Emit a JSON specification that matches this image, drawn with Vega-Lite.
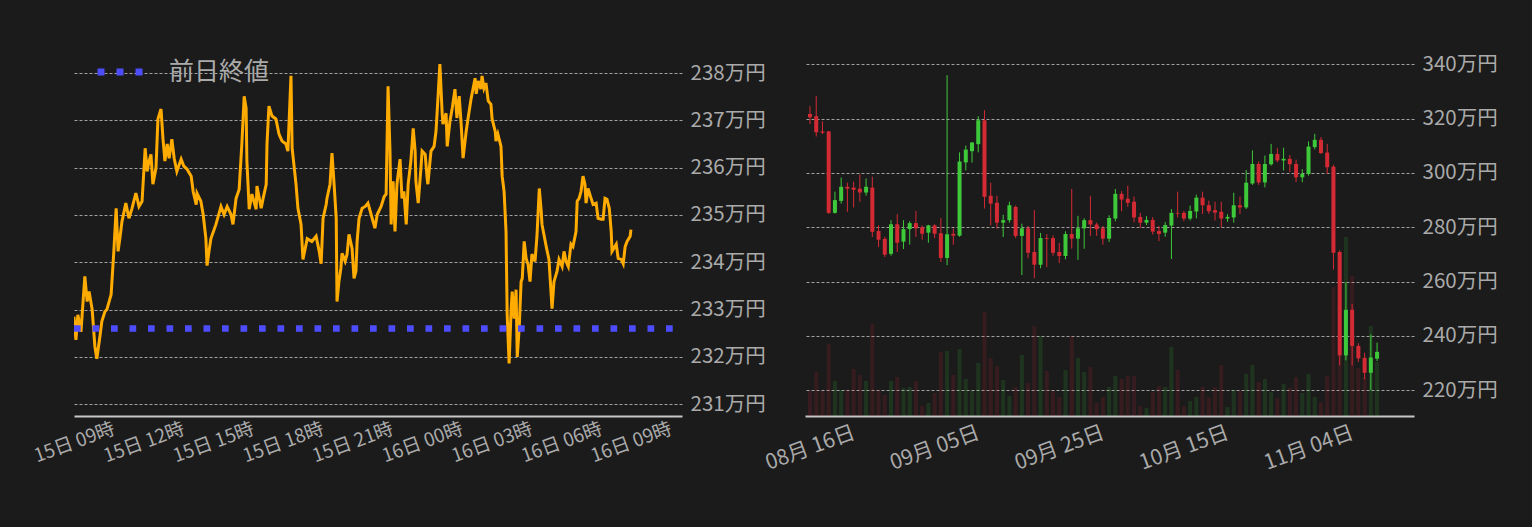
{
  "$schema": "https://vega.github.io/schema/vega-lite/v6.json",
  "background": "#1b1b1b",
  "padding": {"left": 31, "top": 46, "right": 34, "bottom": 55},
  "autosize": {"type": "pad"},
  "spacing": 123,
  "bounds": "flush",
  "config": {
    "view": {"stroke": null},
    "font": "Noto Sans CJK JP",
    "axis": {
      "labelFont": "Noto Sans CJK JP",
      "labelColor": "#aaaaaa",
      "gridColor": "#a0a0a0",
      "gridDash": [3, 2],
      "gridWidth": 1,
      "ticks": false,
      "tickSize": 0,
      "domainColor": "#c8c8c8",
      "domainWidth": 2,
      "title": null
    }
  },
  "hconcat": [
    {
      "width": 608,
      "height": 360,
      "layer": [
        {
          "data": {"values": [
            {"t":"2022-11-15T09:00Z","p":232.85},{"t":"2022-11-15T09:05Z","p":232.36},{"t":"2022-11-15T09:10Z","p":232.89},{"t":"2022-11-15T09:18Z","p":232.53},
            {"t":"2022-11-15T09:28Z","p":233.70},{"t":"2022-11-15T09:34Z","p":233.17},{"t":"2022-11-15T09:39Z","p":233.38},{"t":"2022-11-15T09:47Z","p":233.00},
            {"t":"2022-11-15T09:54Z","p":232.22},{"t":"2022-11-15T09:59Z","p":231.96},{"t":"2022-11-15T10:07Z","p":232.43},{"t":"2022-11-15T10:12Z","p":232.75},
            {"t":"2022-11-15T10:20Z","p":232.96},{"t":"2022-11-15T10:25Z","p":233.00},{"t":"2022-11-15T10:36Z","p":233.32},{"t":"2022-11-15T10:43Z","p":234.23},
            {"t":"2022-11-15T10:49Z","p":235.14},{"t":"2022-11-15T10:54Z","p":234.23},{"t":"2022-11-15T10:59Z","p":234.53},{"t":"2022-11-15T11:04Z","p":234.86},
            {"t":"2022-11-15T11:14Z","p":235.25},{"t":"2022-11-15T11:22Z","p":234.93},{"t":"2022-11-15T11:30Z","p":235.14},{"t":"2022-11-15T11:40Z","p":235.46},
            {"t":"2022-11-15T11:48Z","p":235.18},{"t":"2022-11-15T11:56Z","p":235.29},{"t":"2022-11-15T12:04Z","p":236.41},{"t":"2022-11-15T12:09Z","p":235.92},
            {"t":"2022-11-15T12:14Z","p":236.14},{"t":"2022-11-15T12:19Z","p":236.28},{"t":"2022-11-15T12:24Z","p":235.65},{"t":"2022-11-15T12:32Z","p":235.99},
            {"t":"2022-11-15T12:37Z","p":237.03},{"t":"2022-11-15T12:45Z","p":237.24},{"t":"2022-11-15T12:50Z","p":236.62},{"t":"2022-11-15T12:55Z","p":236.14},
            {"t":"2022-11-15T13:01Z","p":236.50},{"t":"2022-11-15T13:06Z","p":236.20},{"t":"2022-11-15T13:13Z","p":236.60},{"t":"2022-11-15T13:19Z","p":236.20},
            {"t":"2022-11-15T13:26Z","p":235.92},{"t":"2022-11-15T13:37Z","p":236.18},{"t":"2022-11-15T13:44Z","p":236.03},{"t":"2022-11-15T13:52Z","p":235.97},
            {"t":"2022-11-15T14:03Z","p":235.82},{"t":"2022-11-15T14:08Z","p":235.50},{"t":"2022-11-15T14:16Z","p":235.22},{"t":"2022-11-15T14:18Z","p":235.46},
            {"t":"2022-11-15T14:28Z","p":235.29},{"t":"2022-11-15T14:34Z","p":235.01},{"t":"2022-11-15T14:41Z","p":234.50},{"t":"2022-11-15T14:44Z","p":233.93},
            {"t":"2022-11-15T14:49Z","p":234.23},{"t":"2022-11-15T14:54Z","p":234.50},{"t":"2022-11-15T15:07Z","p":234.80},{"t":"2022-11-15T15:20Z","p":235.18},
            {"t":"2022-11-15T15:28Z","p":235.01},{"t":"2022-11-15T15:36Z","p":235.18},{"t":"2022-11-15T15:46Z","p":235.01},{"t":"2022-11-15T15:51Z","p":234.80},
            {"t":"2022-11-15T15:59Z","p":235.35},{"t":"2022-11-15T16:07Z","p":235.54},{"t":"2022-11-15T16:14Z","p":236.50},{"t":"2022-11-15T16:20Z","p":237.51},
            {"t":"2022-11-15T16:25Z","p":237.26},{"t":"2022-11-15T16:27Z","p":236.14},{"t":"2022-11-15T16:33Z","p":235.12},{"t":"2022-11-15T16:40Z","p":235.44},
            {"t":"2022-11-15T16:51Z","p":235.12},{"t":"2022-11-15T16:53Z","p":235.61},{"t":"2022-11-15T17:04Z","p":235.14},{"t":"2022-11-15T17:09Z","p":235.35},
            {"t":"2022-11-15T17:17Z","p":235.65},{"t":"2022-11-15T17:19Z","p":236.50},{"t":"2022-11-15T17:24Z","p":237.30},{"t":"2022-11-15T17:32Z","p":237.09},
            {"t":"2022-11-15T17:42Z","p":237.03},{"t":"2022-11-15T17:50Z","p":236.71},{"t":"2022-11-15T17:58Z","p":236.56},{"t":"2022-11-15T18:08Z","p":236.50},
            {"t":"2022-11-15T18:13Z","p":236.35},{"t":"2022-11-15T18:21Z","p":237.94},{"t":"2022-11-15T18:24Z","p":236.41},{"t":"2022-11-15T18:34Z","p":235.65},
            {"t":"2022-11-15T18:39Z","p":235.14},{"t":"2022-11-15T18:47Z","p":234.80},{"t":"2022-11-15T18:52Z","p":234.06},{"t":"2022-11-15T19:03Z","p":234.50},
            {"t":"2022-11-15T19:15Z","p":234.44},{"t":"2022-11-15T19:26Z","p":234.55},{"t":"2022-11-15T19:34Z","p":234.23},{"t":"2022-11-15T19:39Z","p":233.97},
            {"t":"2022-11-15T19:44Z","p":234.93},{"t":"2022-11-15T19:52Z","p":235.22},{"t":"2022-11-15T19:54Z","p":235.35},{"t":"2022-11-15T20:02Z","p":235.65},
            {"t":"2022-11-15T20:07Z","p":236.31},{"t":"2022-11-15T20:12Z","p":235.71},{"t":"2022-11-15T20:18Z","p":234.93},{"t":"2022-11-15T20:20Z","p":233.17},
            {"t":"2022-11-15T20:25Z","p":233.59},{"t":"2022-11-15T20:30Z","p":233.87},{"t":"2022-11-15T20:33Z","p":234.19},{"t":"2022-11-15T20:41Z","p":234.02},
            {"t":"2022-11-15T20:46Z","p":234.17},{"t":"2022-11-15T20:51Z","p":234.59},{"t":"2022-11-15T20:59Z","p":234.29},{"t":"2022-11-15T21:04Z","p":233.66},
            {"t":"2022-11-15T21:09Z","p":233.81},{"t":"2022-11-15T21:12Z","p":234.44},{"t":"2022-11-15T21:17Z","p":234.93},{"t":"2022-11-15T21:25Z","p":235.14},
            {"t":"2022-11-15T21:33Z","p":235.18},{"t":"2022-11-15T21:40Z","p":235.25},{"t":"2022-11-15T21:51Z","p":234.93},{"t":"2022-11-15T21:58Z","p":234.72},
            {"t":"2022-11-15T22:04Z","p":235.01},{"t":"2022-11-15T22:14Z","p":235.18},{"t":"2022-11-15T22:22Z","p":235.39},{"t":"2022-11-15T22:27Z","p":235.44},
            {"t":"2022-11-15T22:32Z","p":237.72},{"t":"2022-11-15T22:37Z","p":236.35},{"t":"2022-11-15T22:40Z","p":234.80},{"t":"2022-11-15T22:45Z","p":235.71},
            {"t":"2022-11-15T22:50Z","p":234.65},{"t":"2022-11-15T22:55Z","p":235.65},{"t":"2022-11-15T23:03Z","p":236.18},{"t":"2022-11-15T23:08Z","p":235.35},
            {"t":"2022-11-15T23:13Z","p":235.50},{"t":"2022-11-15T23:19Z","p":234.80},{"t":"2022-11-15T23:24Z","p":235.65},{"t":"2022-11-15T23:31Z","p":236.14},
            {"t":"2022-11-15T23:37Z","p":236.83},{"t":"2022-11-15T23:42Z","p":236.35},{"t":"2022-11-15T23:44Z","p":235.71},{"t":"2022-11-15T23:50Z","p":235.25},
            {"t":"2022-11-15T23:57Z","p":235.99},{"t":"2022-11-16T00:00Z","p":236.35},{"t":"2022-11-16T00:08Z","p":236.28},{"t":"2022-11-16T00:13Z","p":235.78},
            {"t":"2022-11-16T00:15Z","p":235.65},{"t":"2022-11-16T00:23Z","p":236.35},{"t":"2022-11-16T00:31Z","p":236.45},{"t":"2022-11-16T00:36Z","p":236.77},
            {"t":"2022-11-16T00:41Z","p":237.47},{"t":"2022-11-16T00:46Z","p":238.19},{"t":"2022-11-16T00:52Z","p":237.13},{"t":"2022-11-16T00:54Z","p":236.92},
            {"t":"2022-11-16T01:02Z","p":237.15},{"t":"2022-11-16T01:05Z","p":236.45},{"t":"2022-11-16T01:12Z","p":236.98},{"t":"2022-11-16T01:18Z","p":237.26},
            {"t":"2022-11-16T01:25Z","p":237.66},{"t":"2022-11-16T01:30Z","p":237.05},{"t":"2022-11-16T01:36Z","p":237.51},{"t":"2022-11-16T01:41Z","p":236.92},
            {"t":"2022-11-16T01:46Z","p":236.20},{"t":"2022-11-16T01:54Z","p":236.77},{"t":"2022-11-16T01:59Z","p":237.05},{"t":"2022-11-16T02:07Z","p":237.47},
            {"t":"2022-11-16T02:12Z","p":237.68},{"t":"2022-11-16T02:17Z","p":237.89},{"t":"2022-11-16T02:20Z","p":237.56},{"t":"2022-11-16T02:25Z","p":237.83},
            {"t":"2022-11-16T02:32Z","p":237.66},{"t":"2022-11-16T02:35Z","p":237.94},{"t":"2022-11-16T02:40Z","p":237.68},{"t":"2022-11-16T02:45Z","p":237.79},
            {"t":"2022-11-16T02:51Z","p":237.41},{"t":"2022-11-16T02:58Z","p":237.34},{"t":"2022-11-16T03:01Z","p":237.03},{"t":"2022-11-16T03:09Z","p":236.77},
            {"t":"2022-11-16T03:11Z","p":236.56},{"t":"2022-11-16T03:16Z","p":236.71},{"t":"2022-11-16T03:24Z","p":236.45},{"t":"2022-11-16T03:27Z","p":235.82},
            {"t":"2022-11-16T03:32Z","p":235.50},{"t":"2022-11-16T03:37Z","p":234.65},{"t":"2022-11-16T03:40Z","p":232.89},{"t":"2022-11-16T03:45Z","p":231.86},
            {"t":"2022-11-16T03:50Z","p":232.96},{"t":"2022-11-16T03:53Z","p":233.38},{"t":"2022-11-16T03:58Z","p":232.81},{"t":"2022-11-16T04:03Z","p":233.42},
            {"t":"2022-11-16T04:06Z","p":232.00},{"t":"2022-11-16T04:11Z","p":232.60},{"t":"2022-11-16T04:16Z","p":233.59},{"t":"2022-11-16T04:19Z","p":233.66},
            {"t":"2022-11-16T04:24Z","p":234.44},{"t":"2022-11-16T04:29Z","p":234.08},{"t":"2022-11-16T04:34Z","p":233.95},{"t":"2022-11-16T04:39Z","p":233.59},
            {"t":"2022-11-16T04:44Z","p":234.17},{"t":"2022-11-16T04:52Z","p":234.02},{"t":"2022-11-16T04:57Z","p":234.55},{"t":"2022-11-16T05:03Z","p":235.56},
            {"t":"2022-11-16T05:08Z","p":235.08},{"t":"2022-11-16T05:10Z","p":234.80},{"t":"2022-11-16T05:21Z","p":234.33},{"t":"2022-11-16T05:28Z","p":234.06},
            {"t":"2022-11-16T05:36Z","p":233.02},{"t":"2022-11-16T05:41Z","p":233.59},{"t":"2022-11-16T05:49Z","p":233.81},{"t":"2022-11-16T05:54Z","p":234.06},
            {"t":"2022-11-16T06:02Z","p":233.91},{"t":"2022-11-16T06:07Z","p":234.23},{"t":"2022-11-16T06:12Z","p":234.02},{"t":"2022-11-16T06:18Z","p":233.91},
            {"t":"2022-11-16T06:25Z","p":234.38},{"t":"2022-11-16T06:30Z","p":234.33},{"t":"2022-11-16T06:38Z","p":234.65},{"t":"2022-11-16T06:41Z","p":235.29},
            {"t":"2022-11-16T06:46Z","p":235.35},{"t":"2022-11-16T06:51Z","p":235.50},{"t":"2022-11-16T06:56Z","p":235.82},{"t":"2022-11-16T07:01Z","p":235.65},
            {"t":"2022-11-16T07:04Z","p":235.25},{"t":"2022-11-16T07:09Z","p":235.56},{"t":"2022-11-16T07:17Z","p":235.35},{"t":"2022-11-16T07:22Z","p":235.22},
            {"t":"2022-11-16T07:30Z","p":235.25},{"t":"2022-11-16T07:35Z","p":234.93},{"t":"2022-11-16T07:43Z","p":234.91},{"t":"2022-11-16T07:48Z","p":234.91},
            {"t":"2022-11-16T07:53Z","p":235.35},{"t":"2022-11-16T07:58Z","p":235.33},{"t":"2022-11-16T08:04Z","p":235.14},{"t":"2022-11-16T08:09Z","p":234.65},
            {"t":"2022-11-16T08:11Z","p":234.23},{"t":"2022-11-16T08:22Z","p":234.38},{"t":"2022-11-16T08:27Z","p":234.08},{"t":"2022-11-16T08:35Z","p":234.06},
            {"t":"2022-11-16T08:40Z","p":233.97},{"t":"2022-11-16T08:45Z","p":234.33},{"t":"2022-11-16T08:50Z","p":234.44},{"t":"2022-11-16T08:58Z","p":234.55},
            {"t":"2022-11-16T09:00Z","p":234.69}
          ]},
          "mark": {"type": "line", "color": "#ffab00", "strokeWidth": 3, "clip": true},
          "encoding": {
            "x": {
              "field": "t", "type": "temporal",
              "scale": {"type": "utc", "domain": [
                {"year": 2022, "month": 11, "date": 15, "hours": 9, "utc": true},
                {"year": 2022, "month": 11, "date": 16, "hours": 11, "minutes": 12, "utc": true}
              ]},
              "axis": {
                "values": [
                  {"year": 2022, "month": 11, "date": 15, "hours": 9, "utc": true},
                  {"year": 2022, "month": 11, "date": 15, "hours": 12, "utc": true},
                  {"year": 2022, "month": 11, "date": 15, "hours": 15, "utc": true},
                  {"year": 2022, "month": 11, "date": 15, "hours": 18, "utc": true},
                  {"year": 2022, "month": 11, "date": 15, "hours": 21, "utc": true},
                  {"year": 2022, "month": 11, "date": 16, "hours": 0, "utc": true},
                  {"year": 2022, "month": 11, "date": 16, "hours": 3, "utc": true},
                  {"year": 2022, "month": 11, "date": 16, "hours": 6, "utc": true},
                  {"year": 2022, "month": 11, "date": 16, "hours": 9, "utc": true}
                ],
                "labelExpr": "utcFormat(datum.value, '%d日 %H時')",
                "labelAngle": -20,
                "labelAlign": "center",
                "labelBaseline": "middle",
                "labelPadding": 26,
                "labelFontSize": 19,
                "labelOverlap": false,
                "grid": false
              }
            },
            "y": {
              "field": "p", "type": "quantitative",
              "scale": {"domain": [230.75, 238.36], "zero": false, "nice": false},
              "axis": {
                "orient": "right",
                "values": [231, 232, 233, 234, 235, 236, 237, 238],
                "labelExpr": "datum.value + '万円'",
                "grid": true,
                "domain": false,
                "labelPadding": 8,
                "labelFontSize": 20.5
              }
            }
          }
        },
        {
          "data": {"values": [{"name": "前日終値", "p": 232.6}]},
          "mark": {"type": "rule", "strokeWidth": 6.5, "strokeDash": [6.7, 11.8], "strokeCap": "butt", "clip": true},
          "encoding": {
            "x": {"datum": {"year": 2022, "month": 11, "date": 15, "hours": 9, "utc": true}, "type": "temporal"},
            "x2": {"datum": {"year": 2022, "month": 11, "date": 16, "hours": 11, "minutes": 12, "utc": true}},
            "y": {"field": "p", "type": "quantitative"},
            "color": {
              "field": "name", "type": "nominal",
              "scale": {"range": ["#4d4dff"]},
              "legend": {
                "title": null,
                "orient": "none",
                "legendX": 20,
                "legendY": -10,
                "padding": 0,
                "symbolType": "stroke",
                "symbolSize": 2025,
                "symbolStrokeWidth": 7,
                "symbolDash": [7, 12],
                "labelFontSize": 25,
                "labelColor": "#aaaaaa",
                "labelFont": "Noto Sans CJK JP",
                "labelOffset": 23
              }
            }
          }
        }
      ]
    },
    {
      "width": 609,
      "height": 360,
      "data": {"values": [
        {"d":"2022-08-16","o":321.7,"h":324.6,"l":318.0,"c":320.5,"v":25},
        {"d":"2022-08-17","o":320.9,"h":328.3,"l":313.4,"c":315.0,"v":44},
        {"d":"2022-08-18","o":315.3,"h":319.0,"l":314.3,"c":314.8,"v":25},
        {"d":"2022-08-19","o":315.3,"h":315.5,"l":284.9,"c":285.3,"v":72},
        {"d":"2022-08-20","o":285.3,"h":293.1,"l":285.0,"c":290.0,"v":35},
        {"d":"2022-08-21","o":289.7,"h":298.3,"l":288.7,"c":294.9,"v":26},
        {"d":"2022-08-22","o":294.9,"h":296.4,"l":285.7,"c":294.2,"v":26},
        {"d":"2022-08-23","o":294.6,"h":296.8,"l":287.3,"c":293.8,"v":47},
        {"d":"2022-08-24","o":294.2,"h":299.5,"l":289.4,"c":292.8,"v":41},
        {"d":"2022-08-25","o":292.8,"h":298.0,"l":291.6,"c":294.9,"v":35},
        {"d":"2022-08-26","o":294.6,"h":298.6,"l":276.4,"c":278.3,"v":92},
        {"d":"2022-08-27","o":278.6,"h":280.7,"l":272.7,"c":275.4,"v":26},
        {"d":"2022-08-28","o":275.7,"h":276.5,"l":269.0,"c":269.9,"v":21},
        {"d":"2022-08-29","o":270.2,"h":282.6,"l":269.5,"c":281.1,"v":35},
        {"d":"2022-08-30","o":281.1,"h":284.8,"l":270.9,"c":274.3,"v":39},
        {"d":"2022-08-31","o":274.7,"h":282.6,"l":272.0,"c":279.3,"v":28},
        {"d":"2022-09-01","o":279.3,"h":282.2,"l":273.6,"c":281.5,"v":29},
        {"d":"2022-09-02","o":281.5,"h":286.0,"l":276.4,"c":279.6,"v":35},
        {"d":"2022-09-03","o":280.0,"h":280.7,"l":275.4,"c":277.6,"v":10},
        {"d":"2022-09-04","o":278.0,"h":280.9,"l":274.3,"c":280.7,"v":13},
        {"d":"2022-09-05","o":280.7,"h":281.1,"l":276.0,"c":277.6,"v":23},
        {"d":"2022-09-06","o":277.8,"h":283.4,"l":267.2,"c":268.7,"v":64},
        {"d":"2022-09-07","o":268.7,"h":336.0,"l":266.0,"c":277.4,"v":65},
        {"d":"2022-09-08","o":277.6,"h":279.5,"l":273.6,"c":276.9,"v":41},
        {"d":"2022-09-09","o":276.9,"h":307.6,"l":276.5,"c":304.2,"v":67},
        {"d":"2022-09-10","o":303.9,"h":310.1,"l":300.9,"c":308.6,"v":37},
        {"d":"2022-09-11","o":308.0,"h":311.4,"l":303.8,"c":311.2,"v":25},
        {"d":"2022-09-12","o":310.6,"h":320.9,"l":307.6,"c":319.4,"v":53},
        {"d":"2022-09-13","o":319.4,"h":323.1,"l":286.9,"c":291.2,"v":104},
        {"d":"2022-09-14","o":291.6,"h":296.4,"l":280.7,"c":288.7,"v":58},
        {"d":"2022-09-15","o":289.0,"h":291.6,"l":279.5,"c":281.7,"v":50},
        {"d":"2022-09-16","o":281.7,"h":284.6,"l":276.4,"c":282.6,"v":36},
        {"d":"2022-09-17","o":282.6,"h":289.4,"l":281.7,"c":288.1,"v":20},
        {"d":"2022-09-18","o":287.5,"h":288.0,"l":276.0,"c":276.8,"v":29},
        {"d":"2022-09-19","o":276.8,"h":281.3,"l":262.4,"c":279.6,"v":61},
        {"d":"2022-09-20","o":279.6,"h":280.5,"l":268.6,"c":270.6,"v":33},
        {"d":"2022-09-21","o":270.9,"h":286.3,"l":261.2,"c":266.2,"v":90},
        {"d":"2022-09-22","o":266.2,"h":277.9,"l":264.9,"c":276.0,"v":80},
        {"d":"2022-09-23","o":276.0,"h":277.5,"l":265.3,"c":275.7,"v":45},
        {"d":"2022-09-24","o":276.0,"h":277.0,"l":269.5,"c":270.6,"v":25},
        {"d":"2022-09-25","o":270.9,"h":274.2,"l":266.8,"c":269.4,"v":19},
        {"d":"2022-09-26","o":269.4,"h":278.5,"l":268.2,"c":277.5,"v":46},
        {"d":"2022-09-27","o":277.5,"h":294.1,"l":272.1,"c":275.8,"v":80},
        {"d":"2022-09-28","o":275.8,"h":284.2,"l":268.0,"c":279.6,"v":58},
        {"d":"2022-09-29","o":279.6,"h":283.3,"l":272.1,"c":282.6,"v":44},
        {"d":"2022-09-30","o":282.6,"h":291.6,"l":276.8,"c":281.0,"v":49},
        {"d":"2022-10-01","o":281.0,"h":281.7,"l":276.8,"c":279.3,"v":13},
        {"d":"2022-10-02","o":279.6,"h":280.5,"l":273.6,"c":275.8,"v":19},
        {"d":"2022-10-03","o":275.8,"h":284.4,"l":274.6,"c":283.4,"v":29},
        {"d":"2022-10-04","o":283.2,"h":294.1,"l":282.2,"c":292.3,"v":40},
        {"d":"2022-10-05","o":292.3,"h":293.3,"l":285.9,"c":290.2,"v":37},
        {"d":"2022-10-06","o":290.5,"h":295.3,"l":287.5,"c":289.0,"v":40},
        {"d":"2022-10-07","o":289.4,"h":291.3,"l":281.8,"c":283.6,"v":40},
        {"d":"2022-10-08","o":283.8,"h":285.3,"l":279.8,"c":281.7,"v":10},
        {"d":"2022-10-09","o":281.7,"h":284.1,"l":280.8,"c":282.7,"v":8},
        {"d":"2022-10-10","o":282.7,"h":283.7,"l":277.3,"c":278.4,"v":24},
        {"d":"2022-10-11","o":278.6,"h":280.5,"l":274.9,"c":277.5,"v":30},
        {"d":"2022-10-12","o":278.0,"h":281.9,"l":276.5,"c":280.8,"v":29},
        {"d":"2022-10-13","o":280.6,"h":286.7,"l":268.3,"c":285.3,"v":69},
        {"d":"2022-10-14","o":285.3,"h":293.1,"l":283.6,"c":285.0,"v":46},
        {"d":"2022-10-15","o":285.3,"h":286.0,"l":282.2,"c":283.2,"v":10},
        {"d":"2022-10-16","o":283.2,"h":288.0,"l":282.5,"c":286.0,"v":15},
        {"d":"2022-10-17","o":285.8,"h":292.0,"l":283.3,"c":290.9,"v":19},
        {"d":"2022-10-18","o":290.9,"h":293.1,"l":284.9,"c":288.1,"v":29},
        {"d":"2022-10-19","o":288.1,"h":289.8,"l":285.0,"c":285.9,"v":19},
        {"d":"2022-10-20","o":286.3,"h":289.4,"l":282.5,"c":285.4,"v":29},
        {"d":"2022-10-21","o":285.7,"h":289.4,"l":279.9,"c":283.2,"v":51},
        {"d":"2022-10-22","o":283.2,"h":284.8,"l":282.0,"c":283.8,"v":9},
        {"d":"2022-10-23","o":283.6,"h":292.7,"l":281.7,"c":288.1,"v":26},
        {"d":"2022-10-24","o":288.1,"h":291.3,"l":284.9,"c":287.3,"v":25},
        {"d":"2022-10-25","o":287.3,"h":301.1,"l":286.7,"c":296.4,"v":42},
        {"d":"2022-10-26","o":296.1,"h":308.3,"l":295.6,"c":303.3,"v":51},
        {"d":"2022-10-27","o":303.3,"h":304.2,"l":295.6,"c":296.5,"v":34},
        {"d":"2022-10-28","o":296.5,"h":306.4,"l":294.7,"c":303.3,"v":37},
        {"d":"2022-10-29","o":303.2,"h":310.7,"l":302.7,"c":307.0,"v":24},
        {"d":"2022-10-30","o":307.0,"h":309.1,"l":303.9,"c":304.6,"v":18},
        {"d":"2022-10-31","o":304.6,"h":309.3,"l":300.9,"c":305.2,"v":32},
        {"d":"2022-11-01","o":305.2,"h":306.6,"l":300.3,"c":303.2,"v":28},
        {"d":"2022-11-02","o":303.3,"h":304.9,"l":296.6,"c":298.4,"v":39},
        {"d":"2022-11-03","o":298.4,"h":301.4,"l":296.6,"c":299.6,"v":23},
        {"d":"2022-11-04","o":299.6,"h":311.6,"l":299.0,"c":309.7,"v":42},
        {"d":"2022-11-05","o":309.5,"h":314.4,"l":308.7,"c":312.2,"v":19},
        {"d":"2022-11-06","o":312.2,"h":313.2,"l":307.0,"c":307.3,"v":14},
        {"d":"2022-11-07","o":307.5,"h":310.7,"l":299.6,"c":302.1,"v":40},
        {"d":"2022-11-08","o":302.3,"h":303.0,"l":264.4,"c":270.6,"v":129},
        {"d":"2022-11-09","o":270.9,"h":271.5,"l":229.1,"c":232.8,"v":160},
        {"d":"2022-11-10","o":232.8,"h":259.7,"l":231.0,"c":249.6,"v":179},
        {"d":"2022-11-11","o":249.6,"h":251.7,"l":229.1,"c":236.3,"v":140},
        {"d":"2022-11-12","o":236.3,"h":237.3,"l":230.4,"c":231.7,"v":48},
        {"d":"2022-11-13","o":231.9,"h":233.8,"l":224.0,"c":226.4,"v":39},
        {"d":"2022-11-14","o":226.4,"h":240.5,"l":220.0,"c":232.0,"v":90},
        {"d":"2022-11-15","o":231.6,"h":237.5,"l":230.7,"c":234.1,"v":54}
      ]},
      "encoding": {
        "x": {
          "field": "d", "type": "temporal",
          "scale": {"type": "utc", "domain": [
            {"year": 2022, "month": 8, "date": 16, "utc": true},
            {"year": 2022, "month": 11, "date": 20, "hours": 3, "utc": true}
          ]},
          "axis": {
            "values": [
              {"year": 2022, "month": 8, "date": 16, "utc": true},
              {"year": 2022, "month": 9, "date": 5, "utc": true},
              {"year": 2022, "month": 9, "date": 25, "utc": true},
              {"year": 2022, "month": 10, "date": 15, "utc": true},
              {"year": 2022, "month": 11, "date": 4, "utc": true}
            ],
            "labelExpr": "utcFormat(datum.value, '%m月 %d日')",
            "labelAngle": -20,
            "labelAlign": "center",
            "labelBaseline": "middle",
            "labelPadding": 32,
            "labelFontSize": 21,
            "labelOverlap": false,
            "grid": false
          }
        }
      },
      "layer": [
        {
          "mark": {"type": "bar", "size": 4, "opacity": 0.15, "clip": true},
          "encoding": {
            "y": {"field": "v", "type": "quantitative", "scale": {"domain": [0, 360], "nice": false}, "axis": null},
            "color": {"condition": {"test": "datum.c >= datum.o", "value": "#3ec93a"}, "value": "#d42a34"}
          }
        },
        {
          "layer": [
            {
              "mark": {"type": "rule", "strokeWidth": 1, "clip": true},
              "encoding": {
                "y": {
                  "field": "l", "type": "quantitative",
                  "scale": {"domain": [210.48, 343.07], "zero": false, "nice": false},
                  "axis": {
                    "orient": "right",
                    "values": [220, 240, 260, 280, 300, 320, 340],
                    "labelExpr": "datum.value + '万円'",
                    "grid": true,
                    "domain": false,
                    "labelPadding": 8,
                    "labelFontSize": 20.5
                  }
                },
                "y2": {"field": "h"},
                "color": {"condition": {"test": "datum.c >= datum.o", "value": "#3ec93a"}, "value": "#d42a34"}
              }
            },
            {
              "mark": {"type": "bar", "size": 4, "clip": true},
              "encoding": {
                "y": {"field": "o", "type": "quantitative"},
                "y2": {"field": "c"},
                "color": {"condition": {"test": "datum.c >= datum.o", "value": "#3ec93a"}, "value": "#d42a34"}
              }
            }
          ]
        }
      ],
      "resolve": {"scale": {"y": "independent"}}
    }
  ]
}
